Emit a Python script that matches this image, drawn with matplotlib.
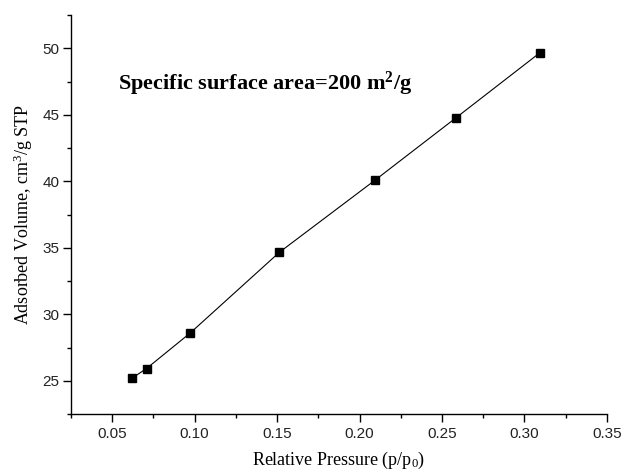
import numpy as np
import matplotlib.pyplot as plt
from matplotlib.ticker import MultipleLocator

# BET points
rel_pressure = [0.0617, 0.0708, 0.0972, 0.1514, 0.2095, 0.2585, 0.3093]
ads_volume = [25.17, 25.92, 28.58, 34.66, 40.09, 44.77, 49.65]

plt.rcParams["mathtext.fontset"] = "custom"
plt.rcParams["mathtext.rm"] = "Liberation Serif"
plt.rcParams["mathtext.it"] = "Liberation Serif:italic"
plt.rcParams["mathtext.bf"] = "Liberation Serif:bold"

fig = plt.figure(figsize=(6.23, 4.75), dpi=100)
ax = fig.add_axes([0.114, 0.1284, 0.860, 0.840])

ax.plot(rel_pressure, ads_volume, color="black", lw=0.8,
        marker="s", markersize=6, markerfacecolor="black", markeredgecolor="black")

ax.set_xlim(0.025, 0.35)
ax.set_ylim(22.5, 52.5)
ax.xaxis.set_major_locator(MultipleLocator(0.05))
ax.xaxis.set_minor_locator(MultipleLocator(0.025))
ax.yaxis.set_major_locator(MultipleLocator(5))
ax.yaxis.set_minor_locator(MultipleLocator(2.5))
ax.xaxis.set_major_formatter(plt.FuncFormatter(lambda v, p: "%.2f" % v))

for s in ["top", "right"]:
    ax.spines[s].set_visible(False)
for s in ["left", "bottom"]:
    ax.spines[s].set_linewidth(1.0)

ax.tick_params(which="major", direction="out", length=5.5, width=1.0,
               labelsize=11, labelcolor="#222222")
ax.tick_params(which="minor", direction="out", length=3, width=1.0)
for lab in ax.get_xticklabels() + ax.get_yticklabels():
    lab.set_fontfamily("Liberation Sans")
ax.tick_params(axis="x", pad=4)
ax.tick_params(axis="y", pad=3)

ax.set_xlabel("Relative Pressure (p/p$_0$)", fontfamily="Liberation Serif",
              fontsize=13, labelpad=6)
ax.set_ylabel("Adsorbed Volume, cm$^3$/g STP", fontfamily="Liberation Serif",
              fontsize=13, labelpad=5)

ax.text(0.0536, 46.85, r"Specific surface area=200 m$^\mathbf{2}$/g",
        fontfamily="Liberation Serif", fontweight="bold", fontsize=16)

fig.savefig("out.png", dpi=100)
